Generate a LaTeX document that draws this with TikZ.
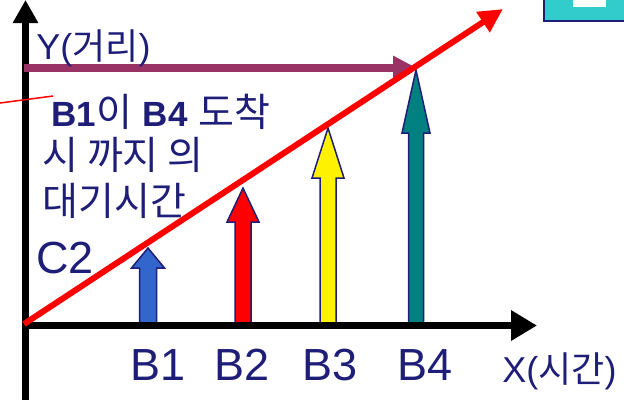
\documentclass[tikz,border=0pt]{standalone}
\usepackage{fontspec}
\setmainfont{Liberation Sans}
\newfontfamily\kr{Noto Sans CJK KR}
\usetikzlibrary{arrows.meta}
\definecolor{txtblue}{RGB}{30,30,120}
\definecolor{plum}{RGB}{153,51,102}
\definecolor{barblue}{RGB}{51,102,204}
\definecolor{barteal}{RGB}{0,128,128}
\definecolor{boxteal}{RGB}{51,204,204}
\newcommand{\latn}[1]{{\fontsize{17.5}{20}\selectfont\bfseries #1}}
\begin{document}
\begin{tikzpicture}[x=0.5pt, y=-0.5pt,
  lbl/.style={text=txtblue, inner sep=0pt, anchor=base west},
  big/.style={font=\fontsize{22.5}{26}\selectfont},
  mid/.style={font=\fontsize{18}{21}\selectfont},
  note/.style={font=\fontsize{19.5}{22}\selectfont},
  bar/.style={draw=txtblue, line width=0.75pt}]
\useasboundingbox (0,0) rectangle (624,404);
\coordinate (ybot) at (25.5,400);
\coordinate (ytop) at (25.5,0);
\coordinate (xl) at (22,325.5);
\coordinate (xend) at (537,325.5);
\coordinate (rs) at (24,324);
\coordinate (re) at (503,9);
\coordinate (ms) at (24,68);
\coordinate (b4tip) at (417,68);
\coordinate (ts) at (0,103);
\coordinate (te) at (53,96);
% block arrows
\foreach \x/\sw/\hw/\hb/\tp/\col in {148/8.5/16.5/268/248/barblue, 243/8/16/222/188/red, 328/8/16/178/128/yellow, 416/7.5/14/133/70/barteal}
  \filldraw[bar, fill=\col] (\x-\sw,323) -- (\x-\sw,\hb) -- (\x-\hw,\hb) -- (\x,\tp) -- (\x+\hw,\hb) -- (\x+\sw,\hb) -- (\x+\sw,323);
% axes
\draw[line width=3.5pt, -{Triangle[length=11.5pt,width=12pt]}] (ybot) -- (ytop);
\draw[line width=3.5pt, -{Triangle[length=13pt,width=14.5pt]}] (xl) -- (xend);
\draw[plum, line width=4pt, -{Triangle[length=12pt,width=11.5pt]}] (ms) -- (b4tip);
\draw[red, line width=3pt, -{Triangle[length=12pt,width=11.5pt]}] (rs) -- (re);
\draw[red, line width=0.75pt] (ts) -- (te);
% corner box
\filldraw[fill=boxteal, draw=txtblue, line width=1pt] (544,-5) rectangle (630,21);
\fill[white] (573,-5) rectangle (606,7);
% labels
\node[lbl, mid] (ylab) at (36,59) {Y({\kr 거리})};
\node[lbl, note] (w1) at (51,126) {\latn{B1}{\kr 이} \latn{B4} {\kr 도착}};
\node[lbl, note] (w2) at (42,169) {\kr 시 까지 의};
\node[lbl, note] (w3) at (42,215) {\kr 대기시간};
\node[lbl, big] (c2) at (36,273) {C2};
\node[lbl, big, anchor=base] (b1) at (158,380) {B1};
\node[lbl, big, anchor=base] (b2) at (242,380) {B2};
\node[lbl, big, anchor=base] (b3) at (330,380) {B3};
\node[lbl, big, anchor=base] (b4) at (425,380) {B4};
\node[lbl, mid] (xlab) at (502,382) {X({\kr 시간})};
\end{tikzpicture}
\end{document}
